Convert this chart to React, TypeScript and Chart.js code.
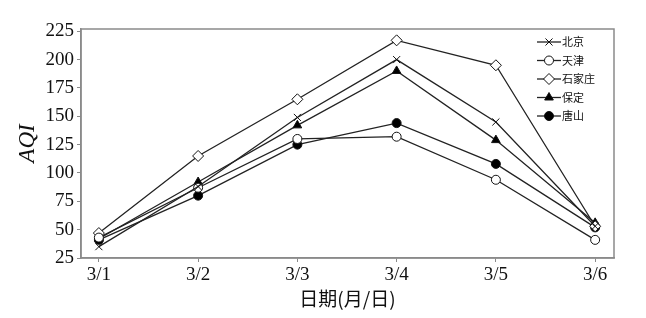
import React, { useEffect, useRef } from "react";
import { Chart, registerables } from "chart.js";

Chart.register(...registerables);

const categories = ["3/1", "3/2", "3/3", "3/4", "3/5", "3/6"];
const beijing = [35, 88, 149, 200, 145, 53];
const tianjin = [43, 87, 130, 132, 94, 41];
const shijiazhuang = [47, 115, 165, 217, 195, 53];
const baoding = [42, 92, 142, 190, 129, 56];
const tangshan = [41, 80, 125, 144, 108, 52];
const seriesNames = ["北京", "天津", "石家庄", "保定", "唐山"];
const yTicks = [25, 50, 75, 100, 125, 150, 175, 200, 225];

const styles = [
  { pointStyle: "crossRot", bg: "#222", r: 5 },
  { pointStyle: "circle", bg: "#fff", r: 4.5 },
  { pointStyle: "rectRot", bg: "#fff", r: 5.5 },
  { pointStyle: "triangle", bg: "#000", r: 5 },
  { pointStyle: "circle", bg: "#000", r: 4.5 },
];

function drawMarker(ctx: any, style: string, r: number, x: number, y: number, bg: string) {
  ctx.save();
  ctx.fillStyle = bg;
  ctx.strokeStyle = "#111";
  ctx.lineWidth = 1;
  ctx.beginPath();
  if (style === "crossRot") {
    const d = r * Math.SQRT1_2;
    ctx.moveTo(x - d, y - d); ctx.lineTo(x + d, y + d);
    ctx.moveTo(x - d, y + d); ctx.lineTo(x + d, y - d);
    ctx.stroke();
  } else if (style === "circle") {
    ctx.arc(x, y, r, 0, Math.PI * 2);
    ctx.fill(); ctx.stroke();
  } else if (style === "rectRot") {
    ctx.moveTo(x, y - r); ctx.lineTo(x + r, y); ctx.lineTo(x, y + r); ctx.lineTo(x - r, y); ctx.closePath();
    ctx.fill(); ctx.stroke();
  } else if (style === "triangle") {
    ctx.moveTo(x, y - r); ctx.lineTo(x + r * 0.87, y + r / 2); ctx.lineTo(x - r * 0.87, y + r / 2); ctx.closePath();
    ctx.fill(); ctx.stroke();
  }
  ctx.restore();
}

export default function App() {
  const ref = useRef<HTMLCanvasElement>(null);
  useEffect(() => {
    document.body.style.margin = "0";
    const values = [beijing, tianjin, shijiazhuang, baoding, tangshan];
    const datasets = values.map((vals, i) => ({
      label: seriesNames[i],
      data: vals.map((v, j) => ({ x: j, y: v })),
      borderColor: "#222",
      borderWidth: 1.3,
      pointStyle: styles[i].pointStyle as any,
      pointRadius: styles[i].r,
      pointBackgroundColor: styles[i].bg,
      pointBorderColor: "#111",
      pointBorderWidth: 1,
      tension: 0,
      fill: false,
    }));

    const boxPlugin = {
      id: "box",
      afterDatasetsDraw(chart: any) {
        const { ctx, chartArea } = chart;
        ctx.save();
        ctx.strokeStyle = "#8a8a8a";
        ctx.lineWidth = 1.5;
        ctx.strokeRect(chartArea.left, chartArea.top, chartArea.right - chartArea.left, chartArea.bottom - chartArea.top);
        const x0 = 537, x1 = 561;
        const ys = [42, 60.5, 79, 97.5, 116];
        ctx.font = "11px 'Noto Sans CJK SC', serif";
        ctx.textBaseline = "middle";
        for (let i = 0; i < seriesNames.length; i++) {
          const y = ys[i];
          ctx.strokeStyle = "#222";
          ctx.lineWidth = 1.3;
          ctx.beginPath();
          ctx.moveTo(x0, y);
          ctx.lineTo(x1, y);
          ctx.stroke();
          drawMarker(ctx, styles[i].pointStyle, styles[i].r, (x0 + x1) / 2, y, styles[i].bg);
          ctx.fillStyle = "#111";
          ctx.fillText(seriesNames[i], x1 + 1, y);
        }
        ctx.restore();
      },
    };

    const chart = new Chart(ref.current!, {
      type: "line",
      data: { datasets },
      plugins: [boxPlugin],
      options: {
        animation: false,
        responsive: false,
        layout: { padding: { top: 29, right: 32, left: 14, bottom: 8 } },
        plugins: { legend: { display: false }, tooltip: { enabled: false } },
        scales: {
          x: {
            type: "linear",
            min: -0.18,
            max: 5.19,
            afterBuildTicks: (s: any) => {
              s.ticks = categories.map((_, i) => ({ value: i }));
            },
            afterFit: (s: any) => { s.height = 52; },
            ticks: {
              callback: (v: any) => categories[v] ?? "",
              color: "#111",
              font: { family: "'Liberation Serif', serif", size: 19 },
              padding: 2,
              maxRotation: 0,
              autoSkip: false,
            },
            grid: { display: true, drawOnChartArea: false, tickLength: 4, color: "#8a8a8a" },
            border: { display: true, color: "#8a8a8a", width: 1.5 },
            title: {
              display: true,
              text: "日期(月/日)",
              color: "#111",
              font: { family: "'Noto Sans CJK SC', serif", size: 19 },
              padding: { top: 0, bottom: 0 },
            },
          },
          y: {
            min: 25,
            max: 227,
            afterBuildTicks: (s: any) => {
              s.ticks = yTicks.map((v) => ({ value: v }));
            },
            afterFit: (s: any) => { s.width = 67; },
            ticks: {
              color: "#111",
              font: { family: "'Liberation Serif', serif", size: 19 },
              padding: 3,
            },
            grid: { display: true, drawOnChartArea: false, tickLength: 4, color: "#8a8a8a" },
            border: { display: true, color: "#8a8a8a", width: 1.5 },
            title: {
              display: true,
              text: "AQI",
              color: "#111",
              font: { family: "'Liberation Serif', serif", size: 23, style: "italic" },
              padding: { top: 0, bottom: 0 },
            },
          },
        },
      },
    });
    return () => chart.destroy();
  }, []);
  return (
    <div style={{ width: 646, height: 318, background: "#fff" }}>
      <canvas ref={ref} width={646} height={318} style={{ display: "block" }} />
    </div>
  );
}
